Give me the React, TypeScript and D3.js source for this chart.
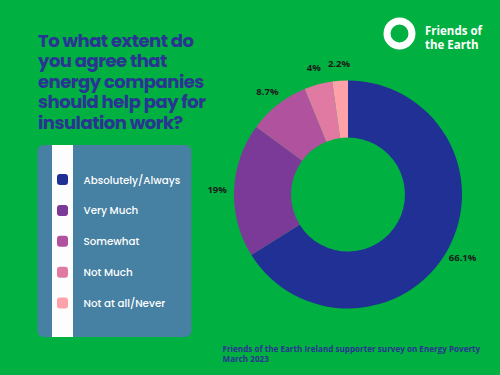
import React from "react";
import * as d3 from "d3";

const categories = ["Absolutely/Always", "Very Much", "Somewhat", "Not  Much", "Not at all/Never"];
const values = [66.1, 19, 8.7, 4, 2.2];
const valueLabels = ["66.1%", "19%", "8.7%", "4%", "2.2%"];
const colors = ["#213094", "#7b3a98", "#b0529e", "#e07aa2", "#ffa1a8"];
const titleLines = ["To what extent do", "you agree that", "energy companies", "should help pay for", "insulation work?"];
const footerLines = ["Friends of the Earth Ireland supporter survey on Energy Poverty", "March 2023"];

const W = 500, H = 375;
const BG = "#00b040";
const NAVY = "#2a3593";

export default function App() {
  const cx = 348, cy = 194.5;
  const rOuter = 114, rInner = 57, rLabel = 131;
  const pie = d3.pie<number>().value((d) => d).sort(null);
  const arcs = pie(values);
  const arc = d3.arc<d3.PieArcDatum<number>>().innerRadius(rInner).outerRadius(rOuter);
  const labelArc = d3.arc<d3.PieArcDatum<number>>().innerRadius(rLabel).outerRadius(rLabel);

  const legendY = d3.scalePoint<string>().domain(categories).range([179.5, 303]);

  return (
    <svg width={W} height={H} style={{ position: "absolute", left: 0, top: 0 }}>
      <rect x={0} y={0} width={W} height={H} fill={BG} />
      {/* title */}
      <g fontFamily="Poppins, 'Open Sans', sans-serif" fontWeight={700} fontSize={18} fill={NAVY}>
        {titleLines.map((t, i) => (
          <text key={i} x={38} y={46.5 + i * 20.5} letterSpacing={-0.5}>{t}</text>
        ))}
      </g>
      {/* logo */}
      <circle cx={399.5} cy={33.5} r={12.5} fill="none" stroke="#fff" strokeWidth={7} />
      <g fontFamily="'Open Sans', sans-serif" fontWeight={700} fontSize={11.5} fill="#fff">
        <text x={425} y={35}>Friends of</text>
        <text x={425} y={48.5}>the Earth</text>
      </g>
      {/* legend */}
      <rect x={37.5} y={145} width={154} height={192} rx={6} fill="#4680a2" />
      <rect x={52} y={145} width={21} height={192} fill="#fdfdfd" />
      {categories.map((c, i) => (
        <g key={c}>
          <rect x={57} y={legendY(c)! - 5.5} width={11} height={11} rx={3} fill={colors[i]} />
          <text x={83.5} y={legendY(c)! + 4} fontFamily="Poppins, 'Open Sans', sans-serif" fontWeight={500} fontSize={10.3} fill="#fff">{c}</text>
        </g>
      ))}
      {/* donut */}
      <g transform={`translate(${cx},${cy})`}>
        {arcs.map((a, i) => (
          <path key={i} d={arc(a)!} fill={colors[i]} />
        ))}
        {arcs.map((a, i) => {
          const [x, y] = labelArc.centroid(a);
          return (
            <text key={"l" + i} x={x} y={y} dy="0.35em" textAnchor="middle" fontFamily="'Open Sans', sans-serif" fontWeight={700} fontSize={9.5} fill="#1c1c1c">
              {valueLabels[i]}
            </text>
          );
        })}
      </g>
      {/* footer */}
      <g fontFamily="'Open Sans', sans-serif" fontWeight={700} fontSize={8.1} fill={NAVY}>
        {footerLines.map((t, i) => (
          <text key={i} x={222.5} y={351.5 + i * 10.5}>{t}</text>
        ))}
      </g>
    </svg>
  );
}
